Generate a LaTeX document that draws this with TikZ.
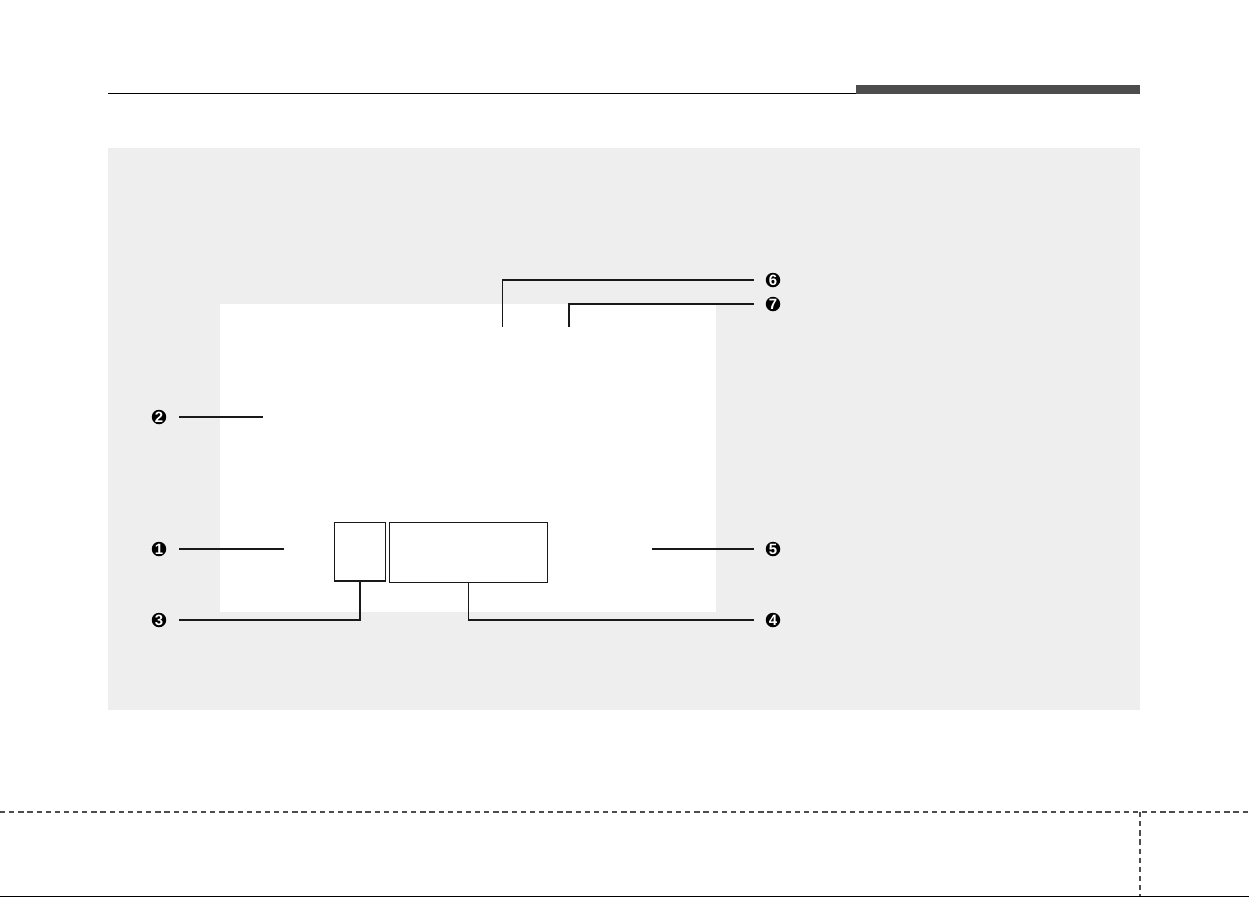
\documentclass[tikz,border=0pt]{standalone}
\usepackage{fontspec}
\setmainfont{Liberation Sans}
\usepackage{xcolor}
\usetikzlibrary{
  positioning,
  arrows.meta
}
\definecolor{panelgray}{HTML}{EEEEEE}
\definecolor{bargray}{HTML}{4D4D4D}

\begin{document}
\begin{tikzpicture}[x=0.02cm,y=-0.02cm,
    num/.style={circle,fill=black,text=white,inner sep=0pt,minimum size=0.29cm,
      font=\bfseries\fontsize{8.5}{8.5}\selectfont},
    lead/.style={line width=0.6pt,black!90},
    unit/.style={draw=black!90,line width=0.7pt,fill=white,inner sep=0pt},
    cut/.style={bargray,line width=1.1pt,dash pattern=on 3pt off 2.2pt}]
            \useasboundingbox (0,0) rectangle (1249,897);
            % header rule and tab
            \draw[line width=0.7pt] (108,93.5) -- (856,93.5);
            \fill[bargray] (856,85) rectangle (1140,94);
            % panel and screen
            \fill[panelgray] (108,148) rectangle (1140,710);
            \fill[white] (220,304) rectangle (716,612);
            \node[unit,minimum width=1.02cm,minimum height=1.17cm] (small) at (360,551.8) {};
            \node[unit,minimum width=3.17cm,minimum height=1.2cm] (big) at (468.5,552.3) {};
            % callout numbers
            \node[num] (n1) at (159,549) {1};
            \node[num] (n2) at (159,417) {2};
            \node[num] (n3) at (159,620) {3};
            \node[num] (n4) at (773,620) {4};
            \node[num] (n5) at (773,549) {5};
            \node[num] (n6) at (773,280) {6};
            \node[num] (n7) at (773,304) {7};
            \coordinate (p1) at (284,549);
            \coordinate (p2) at (263,417);
            \coordinate (p5) at (652,549);
            \coordinate (p6) at (502.5,327);
            \coordinate (p7) at (569,327);
            % leaders
            \draw[lead,shorten <=0.25cm] (n1) -- (p1);
            \draw[lead,shorten <=0.25cm] (n2) -- (p2);
            \draw[lead,shorten >=0.25cm] (small.south) |- (n3);
            \draw[lead,shorten >=0.22cm] (big.south) |- (n4);
            \draw[lead,shorten >=0.22cm] (p5) -- (n5);
            \draw[lead,shorten >=0.22cm] (p6) |- (n6);
            \draw[lead,shorten >=0.22cm] (p7) |- (n7);
            % footer
            \draw[cut] (0,812) -- (1249,812);
            \draw[cut] (1140,812) -- (1140,897);
            \draw[line width=0.5pt] (0,896.5) -- (1249,896.5);
        \end{tikzpicture}
\end{document}
